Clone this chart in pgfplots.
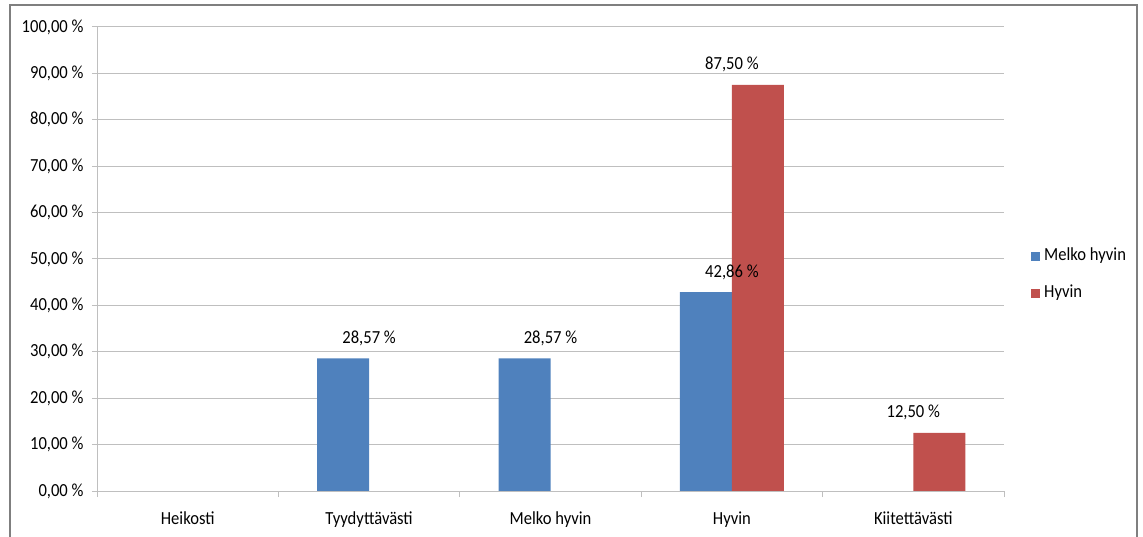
\documentclass[border=0pt]{standalone}
\usepackage{pgfplots}
\pgfplotsset{compat=1.18}
\usepackage{fontspec}
\setmainfont{Carlito}[FakeStretch=0.9]
\definecolor{mblue}{HTML}{4F81BD}
\definecolor{mred}{HTML}{C0504D}
\definecolor{gridc}{HTML}{BFBFBF}
\definecolor{framec}{HTML}{7F7F7F}
\begin{document}
\begin{tikzpicture}
\useasboundingbox (0bp,0bp) rectangle (1143bp,537bp);
\draw[framec, line width=1.5bp] (10bp,-10bp) rectangle (1137bp,532bp);
\begin{axis}[
  at={(97bp,46bp)}, anchor=south west,
  scale only axis, width=907bp, height=464bp,
  xmin=-0.5, xmax=4.5, ymin=0, ymax=100,
  axis x line*=bottom, axis y line*=left,
  axis line style={gridc, line width=1bp},
  font=\fontsize{18.5}{21}\selectfont,
  /pgf/number format/assume math mode=true,
  ytick={0,10,...,100},
  yticklabel={\pgfmathprintnumber[fixed,fixed zerofill,precision=2,use comma]{\tick}~\%},
  yticklabel style={xshift=-5bp},
  xtick={0,1,2,3,4},
  xticklabels={Heikosti,Tyydyttävästi,Melko hyvin,Hyvin,Kiitettävästi},
  minor xtick={-0.5,0.5,1.5,2.5,3.5,4.5},
  major x tick style={draw=none},
  tick style={gridc, line width=1bp},
  tick align=outside,
  major tick length=5bp, minor tick length=6bp,
  xticklabel style={yshift=-12bp},
  ymajorgrids, major grid style={gridc, line width=1bp},
  nodes near coords={\pgfmathprintnumber[fixed,fixed zerofill,precision=2,use comma]{\pgfplotspointmeta}~\%},
  nodes near coords style={anchor=base, inner sep=0pt, yshift=15bp, font=\fontsize{18.5}{21}\selectfont},
  legend style={at={(axis description cs:1.0298,0.466)}, anchor=west, draw=none, fill=none,
    inner sep=0pt, row sep=21bp, column sep=4bp,
    nodes={inner sep=0pt, text height=12bp, text depth=4bp},
    font=\fontsize{18.5}{21}\selectfont},
  legend cell align=left,
]
\addplot[ybar, fill=mblue, draw=none, bar width=52bp, bar shift=-26bp,
  legend image code/.code={\fill[mblue] (0bp,-4.5bp) rectangle (9bp,4.5bp);}]
  coordinates {(1,28.57) (2,28.57) (3,42.86)};
\addlegendentry{Melko hyvin}
\addplot[ybar, fill=mred, draw=none, bar width=52bp, bar shift=26bp,
  legend image code/.code={\fill[mred] (0bp,-4.5bp) rectangle (9bp,4.5bp);}]
  coordinates {(3,87.50) (4,12.50)};
\addlegendentry{Hyvin}
\end{axis}
\end{tikzpicture}
\end{document}
